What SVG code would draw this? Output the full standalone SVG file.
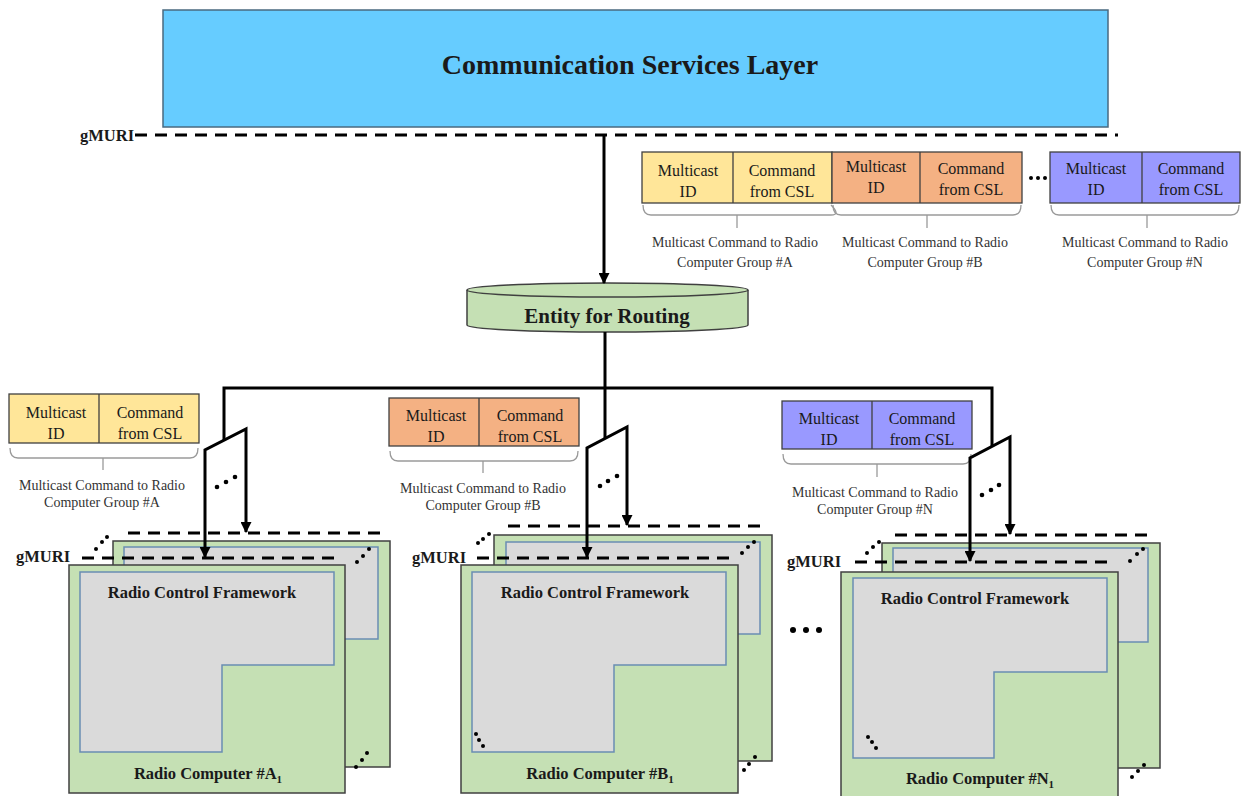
<svg xmlns="http://www.w3.org/2000/svg" width="1243" height="796" viewBox="0 0 1243 796">
<defs>
<marker id="arr" viewBox="0 0 10 10" refX="9" refY="5" markerWidth="11" markerHeight="11" markerUnits="userSpaceOnUse" orient="auto-start-reverse">
<path d="M0,0 L10,5 L0,10 Z" fill="#000"/>
</marker>
<style>
.ser{font-family:"Liberation Serif","Times New Roman",serif;fill:#1a1a1a}
.b{font-weight:bold}
.dash{stroke:#000;stroke-width:3;stroke-dasharray:12 8;fill:none}
.conn{stroke:#000;stroke-width:3;fill:none}
.pc{fill:#C5E0B4;stroke:#404040;stroke-width:1.5}
.inner{fill:#DADADA;stroke:#6A8DB3;stroke-width:1.5}
.mbox{stroke:#404040;stroke-width:1.3}
.y{fill:#FFE699}.o{fill:#F4B183}.p{fill:#9999FF}
.brace{stroke:#9a9a9a;stroke-width:1.3;fill:none}
.mt{font-size:16px;text-anchor:middle}
.cap{font-size:14px;text-anchor:middle;fill:#333}
.rcf{font-size:16.5px;text-anchor:middle}
.gm{font-size:16.5px}
.dot{fill:#000}
</style>
</defs>
<rect width="1243" height="796" fill="#fff"/>

<g id="csl">
<rect x="163" y="10" width="945" height="117" fill="#66CCFF" stroke="#4A6A80" stroke-width="1.5"/>
<text x="630" y="74" class="ser b" font-size="28" text-anchor="middle">Communication Services Layer</text>
</g>

<g id="gmuri-top">
<text x="80" y="141" class="ser b gm">gMURI</text>
<line x1="135" y1="135" x2="1118" y2="135" class="dash"/>
</g>

<g id="msg-top-a">
<rect x="642" y="152" width="190" height="51" class="mbox y"/>
<line x1="733" y1="152" x2="733" y2="203" class="mbox"/>
<text x="688" y="176" class="ser mt">Multicast</text><text x="688" y="197" class="ser mt">ID</text>
<text x="782" y="176" class="ser mt">Command</text><text x="782" y="197" class="ser mt">from CSL</text>
<path class="brace" d="M643,205 Q643,215 651,215 H831 Q841,215 831,205 M737,215 V228" transform="translate(0,0)"/>
<text x="735" y="247" class="ser cap">Multicast Command to Radio</text>
<text x="735" y="267" class="ser cap">Computer Group #A</text>
</g>

<g id="msg-top-b">
<rect x="832" y="152" width="190" height="51" class="mbox o"/>
<line x1="920" y1="152" x2="920" y2="203" class="mbox"/>
<text x="876" y="172" class="ser mt">Multicast</text><text x="876" y="193" class="ser mt">ID</text>
<text x="971" y="174" class="ser mt">Command</text><text x="971" y="195" class="ser mt">from CSL</text>
<path class="brace" d="M833,205 Q833,215 841,215 H1013 Q1021,215 1021,205 M927,215 V228"/>
<text x="925" y="247" class="ser cap">Multicast Command to Radio</text>
<text x="925" y="267" class="ser cap">Computer Group #B</text>
</g>

<g id="dots-top">
<circle cx="1031" cy="178" r="2" class="dot"/><circle cx="1038" cy="178" r="2" class="dot"/><circle cx="1045" cy="178" r="2" class="dot"/>
</g>

<g id="msg-top-n">
<rect x="1050" y="152" width="190" height="51" class="mbox p"/>
<line x1="1142" y1="152" x2="1142" y2="203" class="mbox"/>
<text x="1096" y="174" class="ser mt">Multicast</text><text x="1096" y="195" class="ser mt">ID</text>
<text x="1191" y="174" class="ser mt">Command</text><text x="1191" y="195" class="ser mt">from CSL</text>
<path class="brace" d="M1051,205 Q1051,215 1059,215 H1231 Q1239,215 1239,205 M1147,215 V228"/>
<text x="1145" y="247" class="ser cap">Multicast Command to Radio</text>
<text x="1145" y="267" class="ser cap">Computer Group #N</text>
</g>

<g id="entity">
<path d="M467,290 V325 A140.5,7 0 0 0 748,325 V290" fill="#C5E0B4" stroke="#404040" stroke-width="1.5"/>
<ellipse cx="607.5" cy="290" rx="140.5" ry="7" fill="#C5E0B4" stroke="#404040" stroke-width="1.5"/>
<text x="607" y="323" class="ser b" font-size="21" text-anchor="middle">Entity for Routing</text>
</g>

<g id="msg-a">
<rect x="9" y="394" width="190" height="49" class="mbox y"/>
<line x1="99" y1="394" x2="99" y2="443" class="mbox"/>
<text x="56" y="418" class="ser mt">Multicast</text><text x="56" y="439" class="ser mt">ID</text>
<text x="150" y="418" class="ser mt">Command</text><text x="150" y="439" class="ser mt">from CSL</text>
<path class="brace" d="M10,448 Q10,458 18,458 H190 Q198,458 198,448 M103,458 V470"/>
<text x="102" y="490" class="ser cap">Multicast Command to Radio</text>
<text x="102" y="507" class="ser cap">Computer Group #A</text>
</g>

<g id="msg-b">
<rect x="389" y="398" width="190" height="48" class="mbox o"/>
<line x1="479" y1="398" x2="479" y2="446" class="mbox"/>
<text x="436" y="421" class="ser mt">Multicast</text><text x="436" y="442" class="ser mt">ID</text>
<text x="530" y="421" class="ser mt">Command</text><text x="530" y="442" class="ser mt">from CSL</text>
<path class="brace" d="M390,451 Q390,461 398,461 H570 Q578,461 578,451 M483,461 V473"/>
<text x="483" y="493" class="ser cap">Multicast Command to Radio</text>
<text x="483" y="510" class="ser cap">Computer Group #B</text>
</g>

<g id="msg-n">
<rect x="782" y="401" width="190" height="48" class="mbox p"/>
<line x1="872" y1="401" x2="872" y2="449" class="mbox"/>
<text x="829" y="424" class="ser mt">Multicast</text><text x="829" y="445" class="ser mt">ID</text>
<text x="922" y="424" class="ser mt">Command</text><text x="922" y="445" class="ser mt">from CSL</text>
<path class="brace" d="M783,454 Q783,464 791,464 H963 Q971,464 971,454 M877,464 V477"/>
<text x="875" y="497" class="ser cap">Multicast Command to Radio</text>
<text x="875" y="514" class="ser cap">Computer Group #N</text>
</g>

<g id="stack-a">
<line x1="128" y1="533" x2="382" y2="533" class="dash"/>
<rect x="113" y="541" width="277" height="226" class="pc"/>
<rect x="124" y="547" width="254" height="92" class="inner"/>
<circle cx="357" cy="562" r="2" class="dot"/><circle cx="363" cy="556" r="2" class="dot"/><circle cx="369" cy="549" r="2" class="dot"/>
<circle cx="356" cy="767" r="2" class="dot"/><circle cx="362" cy="760" r="2" class="dot"/><circle cx="367" cy="753" r="2" class="dot"/>
<text x="16" y="562" class="ser b gm">gMURI</text>
<circle cx="96" cy="549" r="2" class="dot"/><circle cx="102" cy="542" r="2" class="dot"/><circle cx="107" cy="537" r="2" class="dot"/>
<line x1="82" y1="558" x2="337" y2="558" class="dash"/>
<rect x="69" y="565" width="276" height="228" class="pc"/>
<path d="M80,572 H334 V665 H222 V752 H80 Z" class="inner"/>
<text x="202" y="598" class="ser b rcf">Radio Control Framework</text>
<text x="208" y="779" class="ser b rcf">Radio Computer #A<tspan font-size="11" dy="4">1</tspan></text>
</g>

<g id="stack-b">
<line x1="508" y1="526" x2="762" y2="526" class="dash"/>
<rect x="494" y="535" width="278" height="226" class="pc"/>
<rect x="506" y="542" width="254" height="92" class="inner"/>
<circle cx="742" cy="553" r="2" class="dot"/><circle cx="748" cy="547" r="2" class="dot"/><circle cx="754" cy="542" r="2" class="dot"/>
<circle cx="744" cy="770" r="2" class="dot"/><circle cx="749" cy="764" r="2" class="dot"/><circle cx="755" cy="757" r="2" class="dot"/>
<text x="412" y="563" class="ser b gm">gMURI</text>
<circle cx="478" cy="543" r="2" class="dot"/><circle cx="483" cy="539" r="2" class="dot"/><circle cx="489" cy="534" r="2" class="dot"/>
<line x1="477" y1="558" x2="730" y2="558" class="dash"/>
<rect x="461" y="565" width="277" height="228" class="pc"/>
<path d="M472,572 H726 V665 H614 V752 H472 Z" class="inner"/>
<circle cx="476" cy="734" r="2" class="dot"/><circle cx="479" cy="740" r="2" class="dot"/><circle cx="483" cy="746" r="2" class="dot"/>
<text x="595" y="598" class="ser b rcf">Radio Control Framework</text>
<text x="600" y="779" class="ser b rcf">Radio Computer #B<tspan font-size="11" dy="4">1</tspan></text>
</g>

<g id="dots-mid">
<circle cx="793" cy="630" r="3" class="dot"/><circle cx="806" cy="630" r="3" class="dot"/><circle cx="819" cy="630" r="3" class="dot"/>
</g>

<g id="stack-n">
<line x1="895" y1="535" x2="1150" y2="535" class="dash"/>
<rect x="882" y="543" width="278" height="225" class="pc"/>
<rect x="893" y="548" width="255" height="94" class="inner"/>
<circle cx="1130" cy="561" r="2" class="dot"/><circle cx="1137" cy="554" r="2" class="dot"/><circle cx="1143" cy="549" r="2" class="dot"/>
<circle cx="1132" cy="777" r="2" class="dot"/><circle cx="1138" cy="771" r="2" class="dot"/><circle cx="1144" cy="765" r="2" class="dot"/>
<text x="787" y="567" class="ser b gm">gMURI</text>
<circle cx="867" cy="553" r="2" class="dot"/><circle cx="873" cy="547" r="2" class="dot"/><circle cx="879" cy="542" r="2" class="dot"/>
<line x1="855" y1="562" x2="1109" y2="562" class="dash"/>
<rect x="841" y="572" width="277" height="226" class="pc"/>
<path d="M853,578 H1107 V672 H994 V758 H853 Z" class="inner"/>
<circle cx="868" cy="737" r="2" class="dot"/><circle cx="872" cy="742" r="2" class="dot"/><circle cx="876" cy="748" r="2" class="dot"/>
<text x="975" y="604" class="ser b rcf">Radio Control Framework</text>
<text x="980" y="784" class="ser b rcf">Radio Computer #N<tspan font-size="11" dy="4">1</tspan></text>
</g>

<g id="connectors">
<line x1="604" y1="136" x2="604" y2="283" class="conn" marker-end="url(#arr)"/>
<line x1="605" y1="332" x2="605" y2="438" class="conn"/>
<path d="M224,441 V388 H992 V447" class="conn"/>
<path d="M205,557 V450 L246,429 V532" class="conn" stroke-linejoin="miter" marker-start="url(#arr)" marker-end="url(#arr)"/>
<path d="M587,557 V448 L627,427 V525" class="conn" marker-start="url(#arr)" marker-end="url(#arr)"/>
<path d="M970,561 V458 L1010,437 V534" class="conn" marker-start="url(#arr)" marker-end="url(#arr)"/>
<circle cx="217" cy="487" r="2.3" class="dot"/><circle cx="226" cy="482" r="2.3" class="dot"/><circle cx="235" cy="477" r="2.3" class="dot"/>
<circle cx="600" cy="486" r="2.3" class="dot"/><circle cx="608" cy="481" r="2.3" class="dot"/><circle cx="617" cy="476" r="2.3" class="dot"/>
<circle cx="982" cy="495" r="2.3" class="dot"/><circle cx="991" cy="490" r="2.3" class="dot"/><circle cx="999" cy="485" r="2.3" class="dot"/>
</g>
</svg>
